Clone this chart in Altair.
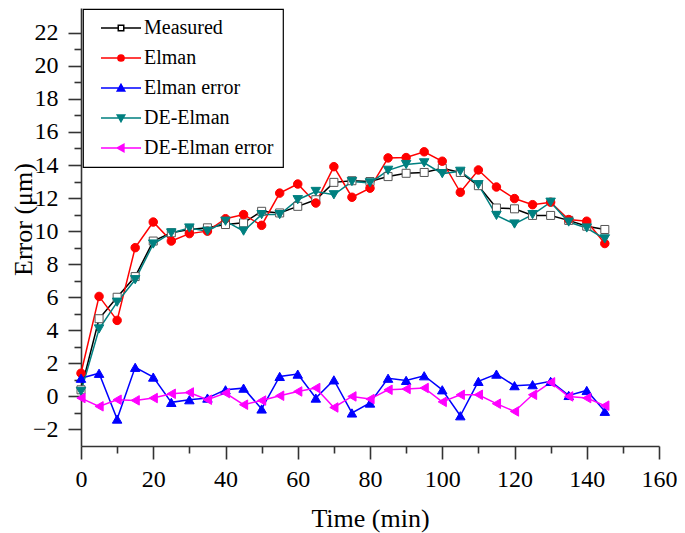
import altair as alt
import pandas as pd

FONT = "Liberation Serif"

time_min = list(range(0, 150, 5))
series_names = ["Measured", "Elman", "Elman error", "DE-Elman", "DE-Elman error"]

measured = [0.4, 4.7, 6.0, 7.25, 9.4, 9.9, 10.1, 10.2, 10.4, 10.5,
            11.2, 11.1, 11.5, 11.9, 12.95, 13.05, 13.0, 13.3, 13.5, 13.55,
            13.8, 13.55, 12.75, 11.4, 11.35, 10.95, 10.95, 10.65, 10.3, 10.1]
elman = [1.4, 6.05, 4.6, 9.0, 10.55, 9.4, 9.85, 10.0, 10.75, 11.0,
         10.35, 12.3, 12.85, 11.7, 13.9, 12.05, 12.6, 14.43, 14.45, 14.8,
         14.23, 12.35, 13.7, 12.67, 11.97, 11.6, 11.75, 10.7, 10.6, 9.25]
elman_error = [1.1, 1.4, -1.37, 1.76, 1.17, -0.36, -0.2, -0.1, 0.4, 0.5,
               -0.76, 1.21, 1.35, -0.1, 1.0, -1.0, -0.4, 1.1, 0.97, 1.25,
               0.4, -1.17, 0.91, 1.35, 0.65, 0.71, 0.91, 0.06, 0.36, -0.9]
de_elman = [0.3, 4.08, 5.7, 7.06, 9.22, 9.89, 10.19, 10.0, 10.6, 10.0,
            11.0, 11.0, 11.9, 12.4, 12.2, 13.0, 12.92, 13.68, 14.03, 14.13,
            13.48, 13.62, 12.81, 10.95, 10.43, 11.0, 11.75, 10.55, 10.19, 9.53]
de_elman_error = [-0.1, -0.6, -0.2, -0.24, -0.1, 0.16, 0.24, -0.2, 0.2, -0.5,
                  -0.25, 0.04, 0.3, 0.51, -0.67, 0.0, -0.16, 0.4, 0.45, 0.51,
                  -0.33, 0.1, 0.1, -0.44, -0.91, 0.1, 0.85, 0.0, -0.1, -0.56]

series_values = [measured, elman, elman_error, de_elman, de_elman_error]

line_colors = ["#000000", "#FF0000", "#0000FF", "#008080", "#FF00FF"]
marker_fills = ["#FFFFFF", "#FF0000", "#0000FF", "#008080", "#FF00FF"]
marker_strokes = ["#555555", "#FF0000", "#0000FF", "#008080", "#FF00FF"]
marker_shapes = ["square", "circle", "triangle-up", "triangle-down", "triangle-left"]
marker_sizes = [64, 72, 90, 90, 90]

legend_paths = [
    "M-4,0L-0.55,0M0.55,0L4,0M-0.55,-0.55L0.55,-0.55L0.55,0.55L-0.55,0.55Z",
    "M-4,0L4,0M0.62,0A0.62,0.62,0,1,1,-0.62,0A0.62,0.62,0,1,1,0.62,0Z",
    "M-4,0L4,0M0,-0.75L0.75,0.58L-0.75,0.58Z",
    "M-4,0L4,0M0,0.75L0.75,-0.58L-0.75,-0.58Z",
    "M-4,0L4,0M-0.75,0L0.58,-0.75L0.58,0.75Z",
]

x_ticks = list(range(0, 161, 20))
x_minor = list(range(10, 160, 20))
y_ticks = list(range(-2, 23, 2))
y_minor = list(range(-1, 22, 2))

rows = []
for name, vals in zip(series_names, series_values):
    for t, v in zip(time_min, vals):
        rows.append({"t": t, "value": v, "series": name, "series_b": name})
df = pd.DataFrame(rows)

x_scale = alt.Scale(domain=[0, 160], nice=False, zero=False)
y_scale = alt.Scale(domain=[-3, 23.5], nice=False, zero=False)

axis_common = dict(
    grid=False,
    domainColor="#333333",
    domainWidth=1.6,
    tickColor="#333333",
    tickWidth=1.6,
    labelFont=FONT,
    labelFontSize=24,
    labelColor="#000000",
    titleFont=FONT,
    titleFontWeight="normal",
    titleColor="#000000",
    labelOverlap=False,
    labelFlush=False,
)

x_main = alt.X(
    "t:Q",
    scale=x_scale,
    axis=alt.Axis(values=x_ticks, title="Time (min)", tickSize=13, titleFontSize=26,
                  labelPadding=8, titlePadding=14, orient="bottom", **axis_common),
)
y_main = alt.Y(
    "value:Q",
    scale=y_scale,
    axis=alt.Axis(values=y_ticks, title="Error (μm)", tickSize=13, titleFontSize=26,
                  labelPadding=10, titleX=-45, titleY=211, orient="left", **axis_common),
)

legend_kw = dict(
    title=None,
    orient="none",
    legendX=2,
    legendY=1,
    padding=9,
    fillColor="#FFFFFF",
    strokeColor="#000000",
    labelFont=FONT,
    labelFontSize=20,
    labelColor="#000000",
    labelExpr="datum.label + '" + "\u00a0" * 12 + "'",
    symbolSize=100,
    symbolOffset=19,
    labelOffset=13,
    rowPadding=10,
    symbolStrokeWidth=1.5,
    symbolOpacity=1,
)

lines = alt.Chart(df).mark_line(strokeWidth=1.5).encode(
    x=x_main,
    y=y_main,
    color=alt.Color("series_b:N", scale=alt.Scale(domain=series_names, range=line_colors),
                    legend=alt.Legend(**legend_kw)),
)

point_layers = []
for name, shp, fc, sc, sz in zip(series_names, marker_shapes, marker_fills, marker_strokes, marker_sizes):
    point_layers.append(
        alt.Chart(df).transform_filter(alt.datum.series == name).mark_point(
            shape=shp, fill=fc, stroke=sc, size=sz, filled=True, opacity=1, strokeWidth=1
        ).encode(
            x=alt.X("t:Q", scale=x_scale, axis=None),
            y=alt.Y("value:Q", scale=y_scale, axis=None),
        )
    )

legend_layer = alt.Chart(df).mark_point(
    filled=True, opacity=0, strokeWidth=1.5, size=100
).encode(
    x=alt.X("t:Q", scale=x_scale, axis=None),
    y=alt.Y("value:Q", scale=y_scale, axis=None),
    shape=alt.Shape("series:N", scale=alt.Scale(domain=series_names, range=legend_paths),
                    legend=alt.Legend(**legend_kw)),
    fill=alt.Fill("series:N", scale=alt.Scale(domain=series_names, range=marker_fills),
                  legend=alt.Legend(**legend_kw)),
    stroke=alt.Stroke("series:N", scale=alt.Scale(domain=series_names, range=line_colors),
                      legend=alt.Legend(**legend_kw)),
)

minor = alt.Chart(df).mark_point(opacity=0).encode(
    x=alt.X("t:Q", scale=x_scale,
            axis=alt.Axis(values=x_minor, tickSize=7, labels=False, title=None, domain=False,
                          orient="bottom", grid=False, tickColor="#333333", tickWidth=1.6)),
    y=alt.Y("value:Q", scale=y_scale,
            axis=alt.Axis(values=y_minor, tickSize=7, labels=False, title=None, domain=False,
                          orient="left", grid=False, tickColor="#333333", tickWidth=1.6)),
)

chart = alt.layer(lines, *point_layers, minor, legend_layer).resolve_axis(
    x="independent", y="independent"
).properties(
    width=578,
    height=438,
    padding={"left": 73, "top": 0, "right": 18, "bottom": 87},
    autosize=alt.AutoSizeParams(type="none"),
    background="#FFFFFF",
).configure_view(stroke=None).configure_legend(
    labelFont=FONT, labelFontSize=20, labelColor="#000000", strokeWidth=1.2
)

chart.save("out.html", embed_options={"renderer": "svg", "actions": False})
